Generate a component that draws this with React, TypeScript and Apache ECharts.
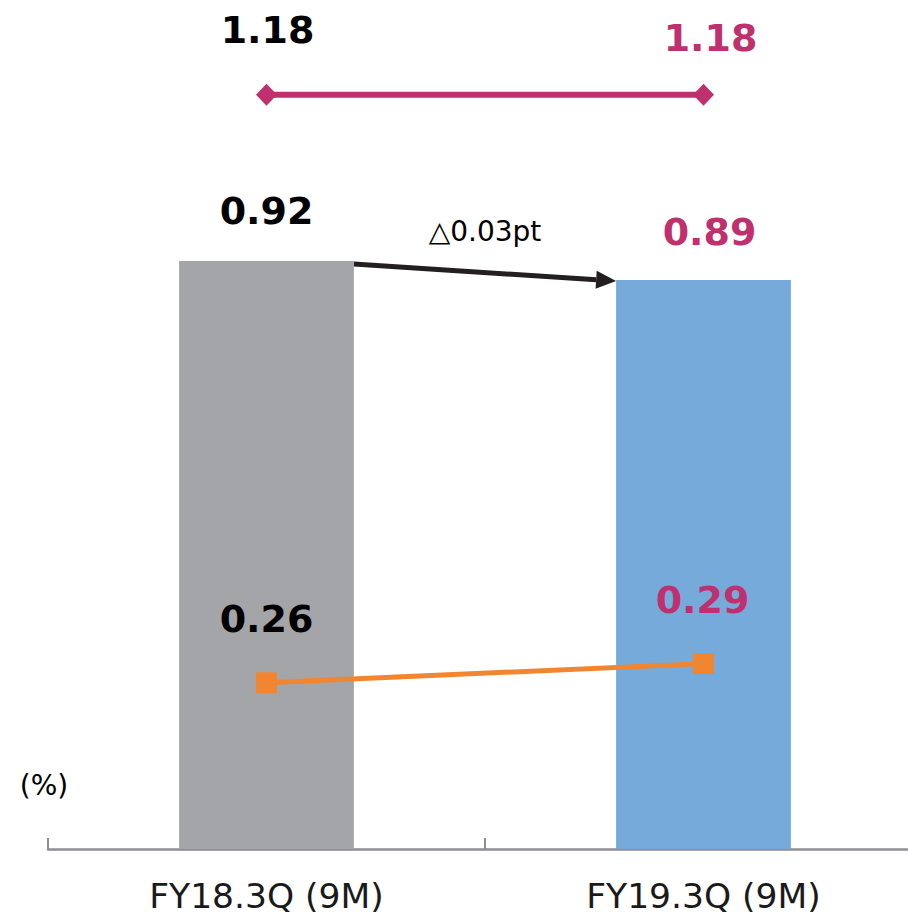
import React, { useEffect, useRef } from "react";
import * as echarts from "echarts";

const categories = ["FY18.3Q (9M)", "FY19.3Q (9M)"];
const barValues = [0.92, 0.89];
const pinkValues = [1.18, 1.18];
const orangeValues = [0.26, 0.29];
const deltaLabel = "△0.03pt";
const unitLabel = "(%)";

const FONT = "DejaVu Sans";
const BLACK = "#000000";
const PINK = "#c0306f";
const GRAY = "#a4a5a9";
const BLUE = "#75aadb";
const ORANGE = "#f2852f";
const labelColors = [BLACK, PINK];

export default function App() {
  const ref = useRef<HTMLDivElement>(null);
  useEffect(() => {
    if (!ref.current) return;
    const chart = echarts.init(ref.current, undefined, { renderer: "svg" });
    const boldLabel = (color: string, offset: number[], position: any = "inside") => ({
      show: true,
      position,
      offset,
      color,
      fontFamily: FONT,
      fontWeight: "bold",
      fontSize: 38,
      lineHeight: 40,
      formatter: (p: any) => p.value.toFixed(2),
    });
    const barOffsets = [[0, -25], [6, -23]];
    const pinkOffsets = [[1, -65], [7, -57]];
    const orangeOffsets = [[0, -64], [-1, -64]];
    chart.setOption({
      animation: false,
      grid: { left: 48, right: 0, top: 18, bottom: 65 },
      xAxis: {
        type: "category",
        data: categories,
        boundaryGap: true,
        axisLine: { lineStyle: { color: "#8e8e93", width: 2.5 } },
        axisTick: { show: true, inside: true, length: 11, lineStyle: { color: "#8e8e93", width: 2 } },
        axisLabel: { color: "#1a1a1a", fontFamily: FONT, fontSize: 34.5, lineHeight: 34, margin: 30 },
      },
      yAxis: { type: "value", min: 0, max: 1.3, show: false, splitLine: { show: false } },
      series: [
        {
          type: "bar",
          barWidth: "40%",
          data: barValues.map((v, i) => ({
            value: v,
            itemStyle: { color: i === 0 ? GRAY : BLUE },
            label: boldLabel(labelColors[i], barOffsets[i], "top"),
          })),
        },
        {
          type: "line",
          data: pinkValues.map((v, i) => ({ value: v, label: boldLabel(labelColors[i], pinkOffsets[i]) })),
          symbol: "diamond",
          symbolSize: [21, 22],
          lineStyle: { color: PINK, width: 6 },
          itemStyle: { color: PINK },
        },
        {
          type: "line",
          data: orangeValues.map((v, i) => ({ value: v, label: boldLabel(labelColors[i], orangeOffsets[i]) })),
          symbol: "rect",
          symbolSize: 21,
          lineStyle: { color: ORANGE, width: 5 },
          itemStyle: { color: ORANGE },
        },
      ],
    });

    const c0 = chart.convertToPixel({ gridIndex: 0 }, [0, barValues[0]]);
    const c1 = chart.convertToPixel({ gridIndex: 0 }, [1, barValues[1]]);
    const band = c1[0] - c0[0];
    const half = band * 0.2;
    const x0 = c0[0] + half;
    const y0 = c0[1] + 3;
    const x1 = c1[0] - half;
    const y1 = c1[1] + 1;
    const ang = Math.atan2(y1 - y0, x1 - x0);
    const hl = 20;
    const hw = 9;
    const bx = x1 - hl * Math.cos(ang);
    const by = y1 - hl * Math.sin(ang);
    const px = -Math.sin(ang);
    const py = Math.cos(ang);
    const base = chart.convertToPixel({ gridIndex: 0 }, [0, 0]);

    chart.setOption({
      graphic: [
        {
          type: "line",
          shape: { x1: x0, y1: y0, x2: bx, y2: by },
          style: { stroke: "#231f20", lineWidth: 5 },
        },
        {
          type: "polygon",
          shape: { points: [[x1, y1], [bx + px * hw, by + py * hw], [bx - px * hw, by - py * hw]] },
          style: { fill: "#231f20" },
        },
        {
          type: "text",
          x: (x0 + x1) / 2,
          y: (y0 + y1) / 2 - 41,
          style: {
            text: deltaLabel,
            fill: "#000",
            font: `28px "${FONT}"`,
            align: "center",
            verticalAlign: "middle",
          },
        },
        {
          type: "text",
          x: 44,
          y: base[1] - 64,
          style: {
            text: unitLabel,
            fill: "#000",
            font: `28px "${FONT}"`,
            align: "center",
            verticalAlign: "middle",
          },
        },
      ],
    });
    return () => chart.dispose();
  }, []);
  return (
    <div style={{ position: "absolute", left: 0, top: 0, width: 908, height: 914, overflow: "hidden", background: "#fff" }}>
      <div ref={ref} style={{ width: 922, height: 914 }} />
    </div>
  );
}
